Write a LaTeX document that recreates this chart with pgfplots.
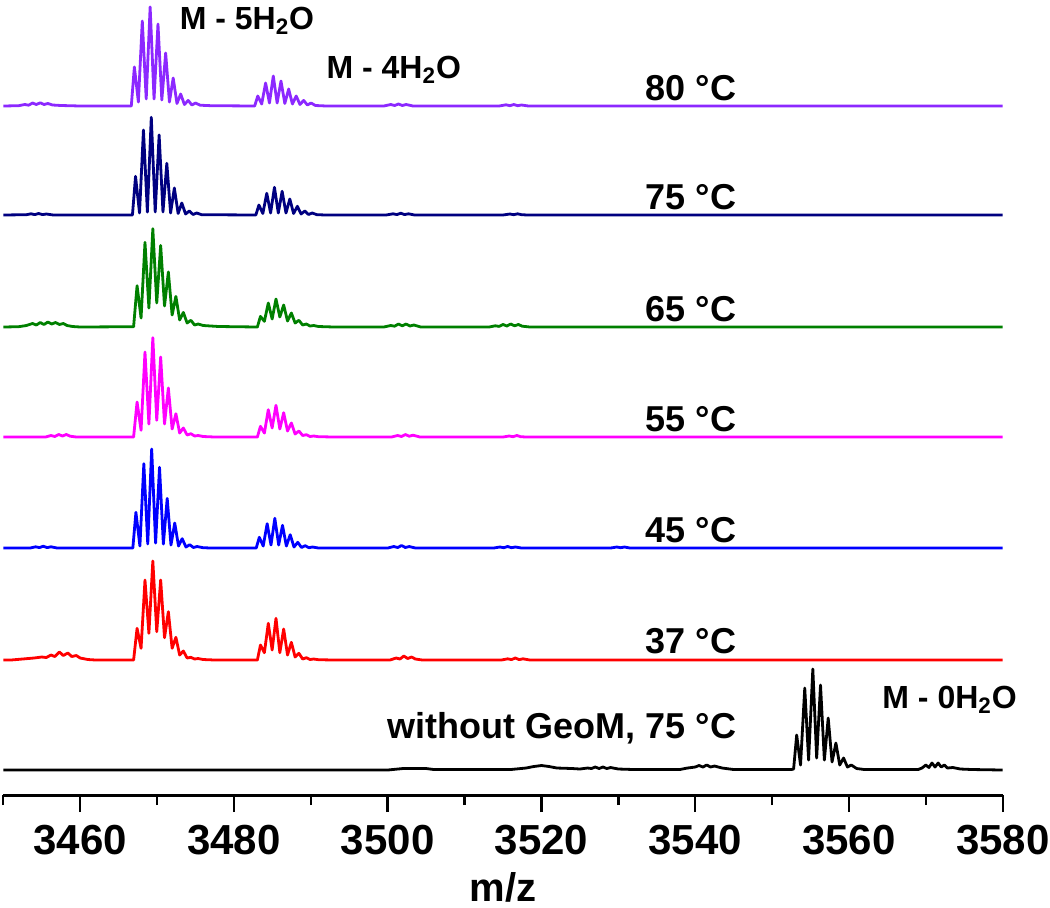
\documentclass[border=0pt]{standalone}
\usepackage{pgfplots}
\pgfplotsset{compat=1.18}
\usepackage{pgfplotstable}
\usepackage{fontspec}
\setmainfont{Liberation Sans}
\definecolor{c80}{RGB}{140,40,255}
\definecolor{c75}{RGB}{0,0,128}
\definecolor{c65}{RGB}{0,128,0}
\definecolor{c55}{RGB}{255,0,255}
\definecolor{c45}{RGB}{0,0,255}
\definecolor{c37}{RGB}{255,0,0}
\tikzset{lab/.style={inner sep=0pt, font=\fontsize{16}{16}\selectfont\bfseries},
  tlab/.style={inner sep=0pt, anchor=base east, font=\fontsize{18}{18}\selectfont\bfseries}}

\pgfplotstableread{
x h
3450 0
3452 0.3
3452.8 1.5
3453.3 0.8
3453.8 3
3454.3 1.5
3454.8 3.2
3455.3 1.5
3455.8 2.5
3456.4 1
3457.5 0.5
3460 0
3466.65 0
3467.05 39
3467.57 4
3468.08 85
3468.59 7
3469.10 99
3469.61 7
3470.12 82
3470.62 6
3471.12 53
3471.61 4
3472.10 28
3472.59 2.5
3473.07 12
3473.56 1.5
3474.05 5.6
3474.53 1
3475.00 3
3475.6 0.8
3477 0.3
3482.7 0
3483.10 10
3483.61 2
3484.12 23
3484.62 3
3485.12 30
3485.62 3
3486.12 25
3486.62 2.5
3487.12 17
3487.61 2
3488.10 10
3488.59 1.5
3489.07 5.6
3489.55 1
3490.03 3
3490.6 0.5
3492 0
3499.5 0
3500.4 1.5
3500.9 0.5
3501.4 2
3501.9 0.5
3502.4 1.5
3503.3 0
3514.5 0
3515.4 1.2
3515.9 0.3
3516.4 1.5
3516.9 0.3
3517.4 1
3518.3 0
3580 0
}\tA

\pgfplotstableread{
x h
3450 0
3453 0.3
3453.6 1.2
3454.1 0.4
3454.6 1.5
3455.1 0.4
3455.6 1
3456.5 0
3466.8 0
3467.20 38.7
3467.72 2
3468.23 85
3468.74 3
3469.25 97.7
3469.76 3
3470.27 80
3470.77 3
3471.27 51.7
3471.76 2
3472.25 27
3472.74 1.5
3473.22 12
3473.71 1
3474.20 4
3474.68 0.5
3475.15 2
3475.8 0.3
3482.85 0
3483.25 10
3483.76 1.5
3484.27 21.7
3484.77 2
3485.27 27.7
3485.77 2
3486.27 23.7
3486.77 2
3487.27 16
3487.76 1.5
3488.25 8.7
3488.74 1
3489.22 4
3489.70 0.5
3490.18 2
3490.8 0.3
3492 0
3499.8 0
3500.7 1.2
3501.2 0.4
3501.7 1.8
3502.2 0.4
3502.7 1.2
3503.5 0
3515 0
3515.9 1
3516.4 0.3
3516.9 1.2
3517.4 0.3
3518.2 0
3580 0
}\tB

\pgfplotstableread{
x h
3450 0
3452 0.3
3453 1.5
3453.8 3.5
3454.3 2
3454.8 4.5
3455.3 2.5
3455.8 5
3456.3 3
3456.8 4.5
3457.3 2.5
3457.8 3.5
3458.3 1.5
3459 0.5
3460 0
3466.95 0.3
3467.40 41.3
3467.92 9
3468.43 84.6
3468.94 19
3469.45 98.3
3469.96 24
3470.47 81.6
3470.97 21
3471.47 55
3471.96 12
3472.45 30.6
3472.94 7
3473.42 14.6
3473.91 4
3474.40 6.7
3474.88 2
3475.35 3
3476 1.5
3478 0.5
3483.05 0
3483.45 10.6
3483.96 5.7
3484.47 24
3484.97 8
3485.47 28
3485.97 10
3486.47 22
3486.97 6
3487.47 14
3487.96 4
3488.45 6.7
3488.94 2
3489.42 3
3489.90 1
3490.38 1.5
3491 0.5
3493 0
3499.5 0
3500.4 1.5
3500.9 0.8
3501.4 3
3501.9 1.2
3502.4 3
3502.9 1
3503.4 2
3504.3 0
3513.2 0
3514 1.2
3514.5 0.6
3515 2.5
3515.5 1
3516 3
3516.5 1.2
3517 2.5
3517.5 0.8
3518.5 0
3580 0
}\tC

\pgfplotstableread{
x h
3450 0
3455.5 0
3456.2 1.5
3456.7 0.5
3457.2 2.5
3457.7 1
3458.2 2.5
3458.7 0.8
3459.5 0
3466.95 0
3467.40 35
3467.92 6.7
3468.43 85
3468.94 13
3469.45 99.3
3469.96 16.7
3470.47 80
3470.97 13
3471.47 49
3471.96 8
3472.45 23.3
3472.94 4
3473.42 9
3473.91 2
3474.40 3.3
3474.88 1
3475.35 1.5
3476 0.5
3477.5 0
3483.05 0
3483.45 10.7
3483.96 4
3484.47 27.3
3484.97 9
3485.47 31.7
3485.97 8
3486.47 24.3
3486.97 6
3487.47 14
3487.96 3
3488.45 6
3488.94 1.5
3489.42 2.3
3489.90 0.5
3490.38 1
3491 0.3
3493 0
3500.5 0
3501.3 1.5
3501.8 0.5
3502.3 2.5
3502.8 0.8
3503.3 1.8
3504.2 0
3515 0
3515.8 1
3516.3 0.3
3516.8 1.5
3517.3 0.3
3518 0
3580 0
}\tD

\pgfplotstableread{
x h
3450 0
3453.5 0
3454.2 1.2
3454.7 0.4
3455.2 1.8
3455.7 0.4
3456.2 1.2
3457 0
3466.85 0
3467.25 35.7
3467.77 2
3468.28 84.3
3468.79 4
3469.30 99
3469.81 5
3470.32 80.7
3470.82 4
3471.32 49.6
3471.81 3
3472.30 25
3472.79 2
3473.27 9.3
3473.76 1
3474.25 3.3
3474.73 0.5
3475.20 1.5
3476 0.3
3477 0
3482.9 0
3483.30 10.7
3483.81 2
3484.32 24.3
3484.82 3
3485.32 29.7
3485.82 3
3486.32 22.7
3486.82 2
3487.32 13.3
3487.81 1
3488.30 5.7
3488.79 0.5
3489.27 2.3
3489.75 0.3
3490.23 1
3491 0
3500 0
3500.8 1.5
3501.3 0.5
3501.8 2.5
3502.3 0.5
3502.8 1.5
3503.6 0
3513.8 0
3514.6 1
3515.1 0.3
3515.6 1.5
3516.1 0.3
3516.6 1
3517.4 0
3529 0
3529.8 1
3530.3 0.3
3530.8 1
3531.5 0
3580 0
}\tE

\pgfplotstableread{
x h
3450 0
3451 0
3452.5 1
3454 2
3455 3
3455.6 2.5
3456.2 5
3456.7 3.5
3457.3 8
3457.8 4.5
3458.4 7
3458.9 3.5
3459.5 4.5
3460 2
3461 0.5
3462 0
3466.95 0
3467.40 31.7
3467.92 11.7
3468.43 80
3468.94 26.7
3469.45 99
3469.96 28.3
3470.47 80
3470.97 22.3
3471.47 48.3
3471.96 11.7
3472.45 22.7
3472.94 5
3473.42 9
3473.91 2
3474.40 2.7
3474.88 1
3475.35 1.5
3476 0.5
3477.5 0
3483.05 0
3483.45 15
3483.96 7.3
3484.47 36.7
3484.97 10
3485.47 41.7
3485.97 7.3
3486.47 31
3486.97 5
3487.47 17.7
3487.96 3
3488.45 6.7
3488.94 1
3489.42 2.3
3489.90 0.5
3490.38 1
3491 0.3
3493 0
3500.3 0
3501.1 2
3501.6 1
3502.1 4
3502.6 1.5
3503.1 3
3503.6 1
3504.5 0
3514.8 0
3515.6 1.2
3516.1 0.4
3516.6 2
3517.1 0.4
3517.6 1.2
3518.5 0
3580 0
}\tF

\pgfplotstableread{
x h
3450 0
3500 0
3502 1.5
3505 1.5
3506 0.5
3516 0.5
3518 2
3519 3.5
3520 4.5
3521 3.5
3522 2
3524 1.5
3525 1
3526 2
3526.5 1.5
3527 3
3527.5 1.5
3528 3
3528.5 1.5
3529 2.5
3530 1
3532 0.5
3538 0.5
3539 2
3540 3
3540.5 4.5
3541 3
3541.5 5
3542 3
3542.5 4
3543.5 2
3545 0.5
3552.5 0.5
3552.8 1
3553.2 35
3553.7 5
3554.25 82
3554.75 10
3555.3 101
3555.8 12
3556.3 85
3556.8 10
3557.3 52
3557.8 8
3558.3 27
3558.8 5
3559.3 12
3559.8 3
3560.3 5
3561 1.5
3562 0.5
3569 0.5
3569.5 2
3570 5
3570.4 2.5
3570.8 7
3571.2 3
3571.6 7
3572 3
3572.4 5
3572.8 2
3573.5 2.5
3574.5 1
3576 0.5
3580 0
}\tG

\begin{document}
\begin{tikzpicture}
\begin{axis}[
  scale only axis, width=499.7pt, height=397.5pt,
  xmin=3450, xmax=3580, ymin=-25, ymax=770,
  axis x line=bottom, axis y line=none,
  x axis line style={-, line width=1.5pt},
  xtick={3460,3480,...,3580}, minor xtick={3450,3470,...,3570},
  tick align=outside, major tick length=8.5pt, minor tick length=5pt,
  tick style={black, line width=1.2pt},
  scaled x ticks=false,
  /pgf/number format/1000 sep={},
  /pgf/number format/assume math mode=true,
  xticklabel style={font=\fontsize{21}{21}\selectfont\bfseries, yshift=-3pt},
  xlabel={m/z},
  every axis x label/.style={at={(axis description cs:0.5,0)}, anchor=base, inner sep=0pt, yshift=-53pt, font=\fontsize{20}{20}\selectfont\bfseries},
  clip=false,
  every axis plot/.append style={line width=1.4pt, line join=round},
]
\addplot[c80] table[x=x, y expr=\thisrow{h}+664] {\tA};
\addplot[c75] table[x=x, y expr=\thisrow{h}+555] {\tB};
\addplot[c65] table[x=x, y expr=\thisrow{h}+443] {\tC};
\addplot[c55] table[x=x, y expr=\thisrow{h}+333] {\tD};
\addplot[c45] table[x=x, y expr=\thisrow{h}+222] {\tE};
\addplot[c37] table[x=x, y expr=\thisrow{h}+110] {\tF};
\addplot[black] table[x=x, y expr=\thisrow{h}] {\tG};

\node[lab, anchor=base west] at (axis cs:3472.9,741) {M - 5H\textsubscript{2}O};
\node[lab, anchor=base west] at (axis cs:3492.0,692) {M - 4H\textsubscript{2}O};
\node[lab, anchor=base west] at (axis cs:3564.3,62) {M - 0H\textsubscript{2}O};
\node[tlab] at (axis cs:3545.4,670) {80 °C};
\node[tlab] at (axis cs:3545.4,561) {75 °C};
\node[tlab] at (axis cs:3545.4,449) {65 °C};
\node[tlab] at (axis cs:3545.4,339) {55 °C};
\node[tlab] at (axis cs:3545.4,228) {45 °C};
\node[tlab] at (axis cs:3545.4,117) {37 °C};
\node[tlab] at (axis cs:3545.4,32) {without GeoM, 75 °C};

\coordinate (bbsw) at (axis cs:3449.571,-137);
\coordinate (bbne) at (axis cs:3586.15,770);
\end{axis}
\pgfresetboundingbox
\path[use as bounding box] (bbsw) rectangle (bbne);
\end{tikzpicture}
\end{document}
